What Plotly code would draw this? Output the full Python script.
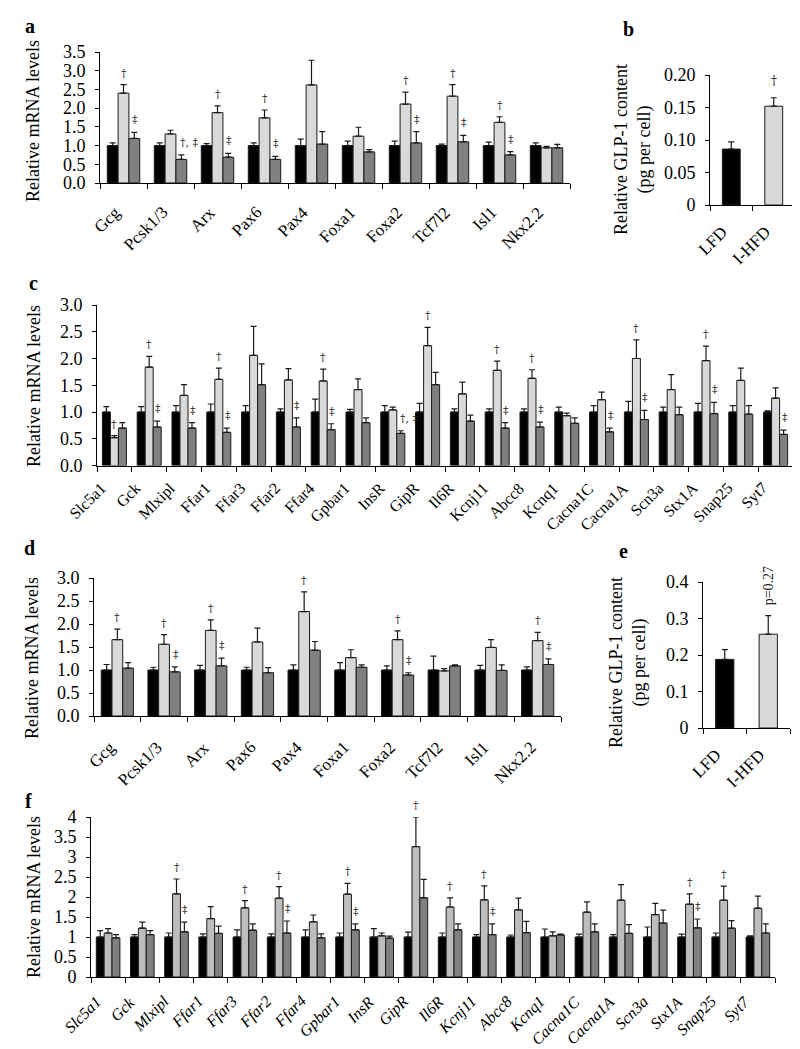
import plotly.graph_objects as go

# ---------------- data ----------------
genes_ad = ["Gcg", "Pcsk1/3", "Arx", "Pax6", "Pax4", "Foxa1", "Foxa2", "Tcf7l2", "Isl1", "Nkx2.2"]
genes_cf = ["Slc5a1", "Gck", "Mlxipl", "Ffar1", "Ffar3", "Ffar2", "Ffar4", "Gpbar1", "InsR", "GipR",
            "Il6R", "Kcnj11", "Abcc8", "Kcnq1", "Cacna1C", "Cacna1A", "Scn3a", "Stx1A", "Snap25", "Syt7"]
diet_groups = ["LFD", "I-HFD"]

# panel a
a_black = [1.0, 1.0, 1.0, 1.0, 1.0, 1.0, 1.0, 1.0, 1.0, 1.0]
a_black_err = [0.07, 0.07, 0.05, 0.07, 0.17, 0.12, 0.12, 0.04, 0.09, 0.07]
a_light = [2.40, 1.31, 1.88, 1.74, 2.62, 1.25, 2.11, 2.32, 1.62, 0.94]
a_light_err = [0.23, 0.10, 0.18, 0.21, 0.66, 0.24, 0.32, 0.31, 0.15, 0.04]
a_dark = [1.19, 0.63, 0.69, 0.63, 1.04, 0.83, 1.07, 1.10, 0.75, 0.94]
a_dark_err = [0.16, 0.12, 0.10, 0.08, 0.33, 0.06, 0.30, 0.17, 0.09, 0.09]
a_mark_light = ["†", "", "†", "†", "", "", "†", "†", "†", ""]
a_mark_dark = ["‡", "†, ‡", "‡", "‡", "", "", "‡", "‡", "‡", ""]

# panel b
b_vals = [0.086, 0.152]
b_err = [0.011, 0.013]
b_mark = ["", "†"]

# panel c
c_black = [1.0] * 20
c_black_err = [0.10, 0.10, 0.12, 0.15, 0.12, 0.06, 0.24, 0.05, 0.12, 0.16,
               0.06, 0.06, 0.06, 0.09, 0.12, 0.20, 0.09, 0.16, 0.12, 0.02]
c_light = [0.52, 1.84, 1.31, 1.61, 2.06, 1.60, 1.58, 1.42, 1.04, 2.24,
           1.34, 1.78, 1.63, 0.93, 1.23, 2.00, 1.42, 1.96, 1.59, 1.26]
c_light_err = [0.04, 0.20, 0.20, 0.21, 0.54, 0.21, 0.22, 0.20, 0.05, 0.34,
               0.22, 0.17, 0.16, 0.05, 0.14, 0.35, 0.28, 0.27, 0.23, 0.19]
c_dark = [0.70, 0.72, 0.70, 0.62, 1.51, 0.72, 0.67, 0.80, 0.60, 1.51,
          0.83, 0.70, 0.72, 0.79, 0.63, 0.86, 0.95, 0.97, 0.96, 0.58]
c_dark_err = [0.10, 0.11, 0.10, 0.08, 0.39, 0.17, 0.11, 0.09, 0.05, 0.23,
              0.11, 0.10, 0.09, 0.10, 0.07, 0.17, 0.14, 0.21, 0.16, 0.08]
c_mark_light = ["†", "†", "", "†", "", "", "†", "", "", "†",
                "", "†", "†", "", "", "†", "", "†", "", ""]
c_mark_dark = ["", "‡", "‡", "‡", "", "‡", "‡", "", "†, ‡", "",
               "", "‡", "‡", "", "‡", "‡", "", "‡", "", "‡"]

# panel d
d_black = [1.0] * 10
d_black_err = [0.12, 0.06, 0.10, 0.06, 0.11, 0.16, 0.09, 0.30, 0.10, 0.07]
d_light = [1.66, 1.56, 1.86, 1.61, 2.27, 1.27, 1.66, 0.98, 1.49, 1.64]
d_light_err = [0.23, 0.21, 0.23, 0.30, 0.43, 0.17, 0.19, 0.05, 0.17, 0.18]
d_dark = [1.04, 0.96, 1.09, 0.94, 1.43, 1.06, 0.89, 1.09, 0.99, 1.12]
d_dark_err = [0.12, 0.11, 0.17, 0.11, 0.19, 0.05, 0.05, 0.02, 0.12, 0.12]
d_mark_light = ["†", "†", "†", "", "†", "", "†", "", "", "†"]
d_mark_dark = ["", "‡", "‡", "", "", "", "‡", "", "", "‡"]

# panel e
e_vals = [0.188, 0.257]
e_err = [0.027, 0.051]
e_mark = ["", "p=0.27"]

# panel f
f_black = [1.0] * 20
f_black_err = [0.16, 0.06, 0.10, 0.08, 0.18, 0.08, 0.18, 0.10, 0.21, 0.12,
               0.10, 0.06, 0.05, 0.20, 0.07, 0.06, 0.25, 0.07, 0.10, 0.03]
f_light = [1.10, 1.22, 2.08, 1.46, 1.73, 1.97, 1.38, 2.07, 1.03, 3.26,
           1.75, 1.93, 1.68, 1.03, 1.62, 1.92, 1.56, 1.82, 1.92, 1.72]
f_light_err = [0.11, 0.15, 0.37, 0.30, 0.18, 0.29, 0.17, 0.27, 0.07, 0.74,
               0.23, 0.35, 0.29, 0.10, 0.26, 0.39, 0.28, 0.26, 0.35, 0.30]
f_dark = [0.98, 1.06, 1.13, 1.09, 1.17, 1.10, 0.98, 1.18, 0.97, 1.98,
          1.18, 1.06, 1.11, 1.05, 1.13, 1.09, 1.35, 1.23, 1.22, 1.10]
f_dark_err = [0.08, 0.10, 0.24, 0.18, 0.16, 0.30, 0.10, 0.15, 0.05, 0.46,
              0.15, 0.27, 0.28, 0.02, 0.20, 0.22, 0.32, 0.22, 0.19, 0.23]
f_mark_light = ["", "", "†", "", "†", "†", "", "†", "", "†",
                "†", "†", "", "", "", "", "", "†", "†", ""]
f_mark_dark = ["", "", "‡", "", "", "‡", "", "‡", "", "",
               "", "‡", "", "", "", "", "", "‡", "", ""]

# ---------------- styling / layout ----------------
W, H = 800, 1049
FONT = "Liberation Serif"
BLACK, LIGHT, DARK, LIGHT_F = "#000000", "#d9d9d9", "#808080", "#bdbdbd"
EDGE = "#1a1a1a"
BARGAP = 0.31
BW = (1 - BARGAP) / 3
MARK_FONT = dict(family="DejaVu Serif", size=11, color="#222222")
MARK_ANGLE = 0.01


def px(v):
    return v / W


def py(v):
    return 1 - v / H


fig = go.Figure()
annotations = []


def ax_names(i):
    return ("x", "y") if i == 1 else (f"x{i}", f"y{i}")


def err(vals):
    return dict(type="data", array=vals, arrayminus=[0] * len(vals), symmetric=False,
                color=EDGE, thickness=1.2, width=3)


def group_panel(i, cats, series, marks_light, marks_dark, light_color):
    xa, ya = ax_names(i)
    pos = list(range(len(cats)))
    for (vals, errs), col, nm in zip(series, [BLACK, light_color, DARK], ["LFD", "I-HFD", "C-HFD"]):
        fig.add_trace(go.Bar(x=pos, y=vals, xaxis=xa, yaxis=ya, showlegend=False, name=nm,
                             marker=dict(color=col, line=dict(color=EDGE, width=1)),
                             error_y=err(errs)))
    (lv, le), (dv, de) = series[1], series[2]
    for k in pos:
        if marks_light[k]:
            annotations.append(dict(x=k, y=lv[k] + le[k], xref=xa, yref=ya, text=marks_light[k],
                                    showarrow=False, yanchor="bottom", yshift=3, textangle=MARK_ANGLE,
                                    font=MARK_FONT))
        if marks_dark[k]:
            m = marks_dark[k]
            annotations.append(dict(x=k + BW, y=dv[k] + de[k], xref=xa, yref=ya, text=m,
                                    showarrow=False, yanchor="bottom", yshift=4, textangle=MARK_ANGLE,
                                    xanchor="left" if len(m) > 1 else "center",
                                    xshift=-3 if len(m) > 1 else 1, font=MARK_FONT))


def single_panel(i, cats, vals, errs, marks, angle):
    xa, ya = ax_names(i)
    pos = list(range(len(cats)))
    fig.add_trace(go.Bar(x=pos, y=vals, xaxis=xa, yaxis=ya, showlegend=False, width=0.42,
                         marker=dict(color=[BLACK, LIGHT], line=dict(color=EDGE, width=1)),
                         error_y=err(errs)))
    for k in pos:
        if marks[k]:
            annotations.append(dict(x=k, y=vals[k] + errs[k], xref=xa, yref=ya, text=marks[k],
                                    showarrow=False, yanchor="bottom", yshift=8,
                                    textangle=angle if angle else MARK_ANGLE,
                                    font=dict(family=FONT if angle else "DejaVu Serif",
                                              size=14 if angle else 12, color="#222")))


group_panel(1, genes_ad, [(a_black, a_black_err), (a_light, a_light_err), (a_dark, a_dark_err)],
            a_mark_light, a_mark_dark, LIGHT)
single_panel(2, diet_groups, b_vals, b_err, b_mark, 0)
group_panel(3, genes_cf, [(c_black, c_black_err), (c_light, c_light_err), (c_dark, c_dark_err)],
            c_mark_light, c_mark_dark, LIGHT)
group_panel(4, genes_ad, [(d_black, d_black_err), (d_light, d_light_err), (d_dark, d_dark_err)],
            d_mark_light, d_mark_dark, LIGHT)
single_panel(5, diet_groups, e_vals, e_err, e_mark, -90)
group_panel(6, genes_cf, [(f_black, f_black_err), (f_light, f_light_err), (f_dark, f_dark_err)],
            f_mark_light, f_mark_dark, LIGHT_F)

# panel geometry (pixel boxes): x0, x1, y_bottom, y_top
boxes = {
    1: (92, 562, 175, 44),
    2: (702, 787, 197, 67),
    3: (89, 785, 457.5, 297),
    4: (86, 553, 708, 570),
    5: (695, 782, 720, 574),
    6: (83, 767, 969, 809),
}
cats_of = {1: genes_ad, 2: diet_groups, 3: genes_cf, 4: genes_ad, 5: diet_groups, 6: genes_cf}
# category label placement: (xshift, yshift, font size, italic)
label_style = {1: (4, -17, 17, False), 2: (3, -15, 17, False), 3: (-2, -11, 16, False),
               4: (5, -19, 17, False), 5: (3, -15, 17, False), 6: (-1, -13, 16, True)}
ytick = {
    1: ([0, 0.5, 1, 1.5, 2, 2.5, 3, 3.5], ["0.0", "0.5", "1.0", "1.5", "2.0", "2.5", "3.0", "3.5"], 3.5),
    2: ([0, 0.05, 0.10, 0.15, 0.20], ["0", "0.05", "0.10", "0.15", "0.20"], 0.20),
    3: ([0, 0.5, 1, 1.5, 2, 2.5, 3], ["0.0", "0.5", "1.0", "1.5", "2.0", "2.5", "3.0"], 3.0),
    4: ([0, 0.5, 1, 1.5, 2, 2.5, 3], ["0.0", "0.5", "1.0", "1.5", "2.0", "2.5", "3.0"], 3.0),
    5: ([0, 0.1, 0.2, 0.3, 0.4], ["0", "0.1", "0.2", "0.3", "0.4"], 0.4),
    6: ([0, 0.5, 1, 1.5, 2, 2.5, 3, 3.5, 4], ["0", "0.5", "1", "1.5", "2", "2.5", "3", "3.5", "4"], 4),
}

layout = dict(width=W, height=H, margin=dict(l=0, r=0, t=0, b=0), paper_bgcolor="white",
              plot_bgcolor="white", barmode="group", bargap=BARGAP, bargroupgap=0,
              font=dict(family=FONT, size=18, color="black"), showlegend=False)

for i, (x0, x1, yb, yt) in boxes.items():
    xn = "xaxis" if i == 1 else f"xaxis{i}"
    yn = "yaxis" if i == 1 else f"yaxis{i}"
    xa, ya = ax_names(i)
    cats = cats_of[i]
    n = len(cats)
    tv, tt, top = ytick[i]
    xdict = dict(domain=[px(x0), px(x1)], anchor=ya, type="linear", range=[-0.5, n - 0.5],
                 showline=True, linecolor="black", linewidth=1, ticks="outside", ticklen=5,
                 tickcolor="black", showgrid=False, zeroline=False, automargin=False,
                 tickmode="array", tickvals=[k - 0.5 for k in range(n + 1)], showticklabels=False)
    ydict = dict(domain=[py(yb), py(yt)], anchor=xa, range=[0, top], showline=True, linecolor="black",
                 linewidth=1, ticks="outside", ticklen=4, tickcolor="black", tickvals=tv, ticktext=tt,
                 showgrid=False, zeroline=False, automargin=False, ticklabelstandoff=6,
                 tickfont=dict(family=FONT, size=18, color="black"))
    layout[xn] = xdict
    layout[yn] = ydict
    # rotated category labels
    xs, ys, fs, it = label_style[i]
    for k, c in enumerate(cats):
        annotations.append(dict(x=k, y=0, xref=xa, yref=ya, text=f"<i>{c}</i>" if it else c,
                                showarrow=False, textangle=-45, xanchor="right", yanchor="top",
                                xshift=xs, yshift=ys, font=dict(family=FONT, size=fs, color="black")))

# y-axis titles and panel letters
titles = [
    ("Relative mRNA levels", 25, 113),
    ("Relative GLP-1 content<br>(pg per cell)", 625, 142),
    ("Relative mRNA levels", 26, 378),
    ("Relative mRNA levels", 24, 650),
    ("Relative GLP-1 content<br>(pg per cell)", 620, 655),
    ("Relative mRNA levels", 26, 889),
]
for text, x, y in titles:
    annotations.append(dict(x=px(x), y=py(y), xref="paper", yref="paper", text=text, showarrow=False,
                            textangle=-90, xanchor="center", yanchor="middle",
                            font=dict(family=FONT, size=18, color="black")))

letters = [("a", 22, 18), ("b", 620, 21), ("c", 25, 275), ("d", 21, 540), ("e", 615, 543), ("f", 20, 793)]
for t, x, y in letters:
    annotations.append(dict(x=px(x), y=py(y), xref="paper", yref="paper", text=f"<b>{t}</b>",
                            showarrow=False, xanchor="center", yanchor="middle",
                            font=dict(family=FONT, size=20, color="black")))

layout["annotations"] = annotations
fig.update_layout(**layout)
fig.write_html("out.html")
